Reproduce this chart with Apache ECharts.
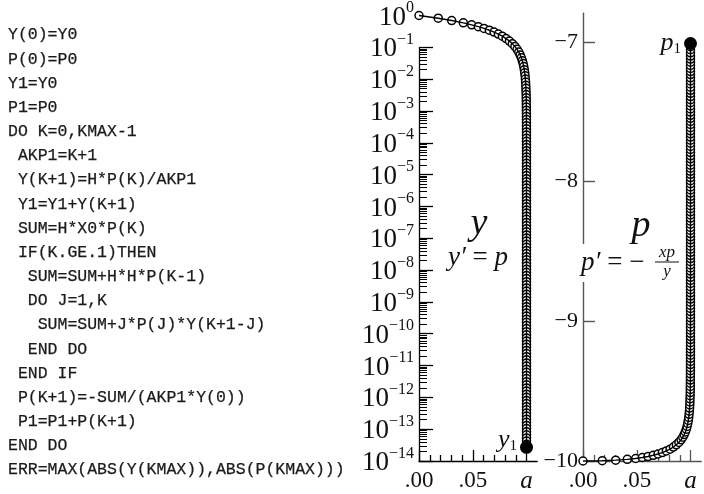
<!DOCTYPE html>
<html>
<head>
<meta charset="utf-8">
<script src="https://cdn.jsdelivr.net/npm/echarts@6/dist/echarts.min.js"></script>
<style>
  html, body { margin: 0; padding: 0; background: #fff; }
  #c { width: 704px; height: 494px; }
</style>
</head>
<body>
<div id="c"></div>
<script>
// Taylor-series integration of y' = p, p' = -x p / y from x = 0 towards the
// singular point x = a; one entry per accepted step.
const xs = [
  0, 0.0179, 0.0304, 0.0412, 0.049, 0.0552, 0.0605, 0.0654, 0.0698, 0.0738,
  0.0775, 0.081, 0.0841, 0.0868, 0.0892, 0.0912, 0.0928, 0.0941, 0.0952, 0.0961,
  0.0968, 0.09744, 0.09795, 0.09836, 0.09869, 0.09895, 0.09916, 0.09933, 0.09946, 0.09957,
  0.09966, 0.09973, 0.09978, 0.09982, 0.09986, 0.09989, 0.09991, 0.09993, 0.09994, 0.09995,
  0.09996, 0.09997, 0.09998, 0.09998, 0.09998, 0.09999,
  0.1, 0.1, 0.1, 0.1, 0.1, 0.1, 0.1, 0.1, 0.1, 0.1, 0.1, 0.1, 0.1, 0.1,
  0.1, 0.1, 0.1, 0.1, 0.1, 0.1, 0.1, 0.1, 0.1, 0.1, 0.1, 0.1, 0.1, 0.1,
  0.1, 0.1, 0.1, 0.1, 0.1, 0.1, 0.1, 0.1, 0.1, 0.1, 0.1, 0.1, 0.1, 0.1,
  0.1, 0.1, 0.1, 0.1, 0.1, 0.1, 0.1, 0.1, 0.1, 0.1, 0.1, 0.1, 0.1, 0.1,
  0.1, 0.1, 0.1, 0.1, 0.1, 0.1, 0.1, 0.1, 0.1, 0.1, 0.1, 0.1, 0.1, 0.1,
  0.1, 0.1, 0.1, 0.1, 0.1, 0.1, 0.1, 0.1, 0.1, 0.1, 0.1, 0.1, 0.1, 0.1,
  0.1, 0.1, 0.1, 0.1, 0.1, 0.1, 0.1, 0.1, 0.1, 0.1, 0.1, 0.1, 0.1, 0.1
];

const ys = [
  1, 0.8209, 0.6956, 0.5873, 0.5091, 0.4469, 0.3937, 0.3446, 0.3005, 0.2604,
  0.2234, 0.1884, 0.1574, 0.1305, 0.1066, 0.08666, 0.07077, 0.05789, 0.0470, 0.03811,
  3.121e-2, 2.491e-2, 1.989e-2, 1.587e-2, 1.267e-2, 1.011e-2, 8.071e-3, 6.442e-3, 5.142e-3, 4.104e-3,
  3.276e-3, 2.614e-3, 2.086e-3, 1.665e-3, 1.329e-3, 1.061e-3, 8.466e-4, 6.756e-4, 5.392e-4, 4.304e-4,
  3.435e-4, 2.741e-4, 2.188e-4, 1.746e-4, 1.393e-4, 1.112e-4, 8.874e-5, 7.082e-5, 5.652e-5, 4.511e-5,
  3.599e-5,
  2.872e-5, 2.292e-5, 1.829e-5, 1.460e-5, 1.165e-5, 9.297e-6, 7.419e-6, 5.920e-6, 4.725e-6, 3.770e-6,
  3.008e-6, 2.401e-6, 1.916e-6, 1.529e-6, 1.220e-6, 9.733e-7, 7.767e-7, 6.198e-7, 4.945e-7, 3.946e-7,
  3.149e-7, 2.513e-7, 2.005e-7, 1.600e-7, 1.276e-7, 1.018e-7, 8.126e-8, 6.484e-8, 5.173e-8, 4.128e-8,
  3.294e-8,
  2.628e-8, 2.097e-8, 1.673e-8, 1.335e-8, 1.065e-8, 8.496e-9, 6.779e-9, 5.408e-9, 4.315e-9, 3.442e-9,
  2.746e-9, 2.191e-9, 1.748e-9, 1.394e-9, 1.113e-9, 8.876e-10, 7.081e-10, 5.649e-10, 4.507e-10, 3.595e-10,
  2.868e-10, 2.288e-10, 1.825e-10, 1.456e-10, 1.162e-10, 9.266e-11, 7.391e-11, 5.896e-11, 4.704e-11, 3.752e-11,
  2.993e-11,
  2.387e-11, 1.904e-11, 1.519e-11, 1.212e-11, 9.664e-12, 7.709e-12, 6.149e-12, 4.905e-12, 3.912e-12, 3.120e-12,
  2.489e-12, 1.985e-12, 1.583e-12, 1.263e-12, 1.007e-12, 8.034e-13, 6.408e-13, 5.110e-13, 4.076e-13, 3.251e-13,
  2.592e-13, 2.068e-13, 1.649e-13, 1.315e-13, 1.049e-13, 8.364e-14, 6.671e-14, 5.319e-14, 4.242e-14, 3.383e-14,
  2.698e-14
];

const ps = [
  -10, -9.998, -9.994, -9.988, -9.982, -9.975, -9.968, -9.959, -9.950, -9.940,
  -9.928, -9.915, -9.900, -9.884, -9.867, -9.848, -9.830, -9.811, -9.792, -9.772,
  -9.753, -9.731, -9.710, -9.688, -9.666, -9.643, -9.621, -9.599, -9.577, -9.555,
  -9.533, -9.510, -9.488, -9.466, -9.443, -9.421, -9.399, -9.376, -9.354, -9.332,
  -9.310, -9.287, -9.265, -9.243, -9.220, -9.198, -9.176, -9.153, -9.131, -9.109,
  -9.086, -9.064, -9.042, -9.019, -8.997, -8.975, -8.953, -8.930, -8.908, -8.886,
  -8.863, -8.841, -8.819, -8.796, -8.774, -8.752, -8.729, -8.707, -8.685, -8.662,
  -8.640, -8.618, -8.596, -8.573, -8.551, -8.529, -8.506, -8.484, -8.462, -8.439,
  -8.417, -8.395, -8.372, -8.350, -8.328, -8.305, -8.283, -8.261, -8.239, -8.216,
  -8.194, -8.172, -8.149, -8.127, -8.105, -8.082, -8.060, -8.038, -8.015, -7.993,
  -7.971, -7.948, -7.926, -7.904, -7.882, -7.859, -7.837, -7.815, -7.792, -7.770,
  -7.748, -7.725, -7.703, -7.681, -7.658, -7.636, -7.614, -7.591, -7.569, -7.547,
  -7.525, -7.502, -7.480, -7.458, -7.435, -7.413, -7.391, -7.368, -7.346, -7.324,
  -7.301, -7.279, -7.257, -7.234, -7.212, -7.190, -7.168, -7.145, -7.123, -7.101,
  -7.078, -7.056, -7.034, -7.011
];

// Axis ticks and labels
const yDecades = [1, 1e-1, 1e-2, 1e-3, 1e-4, 1e-5, 1e-6, 1e-7, 1e-8, 1e-9, 1e-10, 1e-11, 1e-12, 1e-13, 1e-14];
const yTickDecades = yDecades.slice(1);
const xMajorTicks = [0, 0.05, 0.1];
const xTickText = ['.00', '.05', 'a'];
const xMinorTicks = [0.01, 0.02, 0.03, 0.04, 0.06, 0.07, 0.08, 0.09];
const pTicks = [-10, -9, -8, -7];

// FORTRAN listing of the recursion
const codeLines = [
  'Y(0)=Y0',
  'P(0)=P0',
  'Y1=Y0',
  'P1=P0',
  'DO K=0,KMAX-1',
  ' AKP1=K+1',
  ' Y(K+1)=H*P(K)/AKP1',
  ' Y1=Y1+Y(K+1)',
  ' SUM=H*X0*P(K)',
  ' IF(K.GE.1)THEN',
  '  SUM=SUM+H*H*P(K-1)',
  '  DO J=1,K',
  '   SUM=SUM+J*P(J)*Y(K+1-J)',
  '  END DO',
  ' END IF',
  ' P(K+1)=-SUM/(AKP1*Y(0))',
  ' P1=P1+P(K+1)',
  'END DO',
  'ERR=MAX(ABS(Y(KMAX)),ABS(P(KMAX)))'
];

// minor log ticks 2..9 within each decade below 10^-1
const yMinorTicks = [];
for (let e = -14; e <= -2; e++) {
  for (let m = 2; m <= 9; m++) yMinorTicks.push(m * Math.pow(10, e));
}

const SERIF = '"Liberation Serif", "DejaVu Serif", serif';
const INK = '#111';

const last = xs.length - 1;
const yData = xs.map((x, i) => [x, ys[i]]);
const pData = xs.map((x, i) => [x, ps[i]]);

const subRich = {
  i: { fontFamily: SERIF, fontStyle: 'italic', fontSize: 26, color: INK, verticalAlign: 'bottom' },
  s: { fontFamily: SERIF, fontSize: 15, color: INK, verticalAlign: 'bottom' }
};

function xLabel(v) {
  for (let i = 0; i < xMajorTicks.length; i++) {
    if (Math.abs(v - xMajorTicks[i]) < 1e-9) return i === 2 ? '{a|' + xTickText[i] + '}' : xTickText[i];
  }
  return '';
}
const xLabelRich = { a: { fontFamily: SERIF, fontStyle: 'italic', fontSize: 25, color: INK } };

function decadeLabel(v) {
  const e = Math.round(Math.log10(v));
  const sup = e < 0 ? '\u2212' + (-e) : String(e);
  return '{b|10}{s|' + sup + '}';
}

function xAxes(grid, color) {
  return [
    {
      gridIndex: grid, type: 'value', position: 'bottom', min: 0, max: 0.11, interval: 0.01,
      axisLine: { show: true, lineStyle: { color: color, width: 1.3 } },
      axisTick: { show: true, inside: true, length: 11, customValues: xMajorTicks, lineStyle: { color: color, width: 1.3 } },
      axisLabel: {
        show: true, customValues: xMajorTicks, formatter: xLabel, rich: xLabelRich,
        fontFamily: SERIF, fontSize: 23, color: INK, margin: 8
      },
      splitLine: { show: false }
    },
    {
      gridIndex: grid, type: 'value', position: 'bottom', min: 0, max: 0.11, interval: 0.01,
      axisLine: { show: false },
      axisTick: { show: true, inside: true, length: 6, customValues: xMinorTicks, lineStyle: { color: color, width: 1.3 } },
      axisLabel: { show: false },
      splitLine: { show: false }
    }
  ];
}

// open circles underneath, joining line drawn over them, filled end point on top
function curveSeries(xIdx, yIdx, data, endLabel, endOffset) {
  return [
    {
      type: 'scatter', xAxisIndex: xIdx, yAxisIndex: yIdx, data: data.slice(0, last), clip: false,
      symbol: 'circle', symbolSize: 8,
      itemStyle: { color: '#fff', borderColor: '#000', borderWidth: 1.5, opacity: 1 },
      emphasis: { disabled: true }, z: 2
    },
    {
      type: 'line', xAxisIndex: xIdx, yAxisIndex: yIdx, data: data, clip: false,
      showSymbol: false, symbol: 'none',
      lineStyle: { color: '#000', width: 1.4 },
      emphasis: { disabled: true }, z: 3
    },
    {
      type: 'scatter', xAxisIndex: xIdx, yAxisIndex: yIdx, data: [data[last]], clip: false,
      symbol: 'circle', symbolSize: 13,
      itemStyle: { color: '#000', opacity: 1 },
      label: { show: true, position: 'left', distance: 3, offset: endOffset, formatter: endLabel, rich: subRich },
      emphasis: { disabled: true }, z: 4
    }
  ];
}

const ySeries = curveSeries(0, 0, yData, '{i|y}{s|1}', [0, -7]);
ySeries[1].markLine = {
  silent: true, symbol: ['none', 'none'], label: { show: false },
  lineStyle: { color: '#000', width: 1.3, type: 'solid' },
  data: [[{ coord: [0, 1e-14] }, { coord: [0, 1e-1] }]]
};
const pSeries = curveSeries(2, 2, pData, '{i|p}{s|1}', [0, 0]);

const option = {
  animation: false,
  backgroundColor: '#fff',
  grid: [
    { left: 419, top: 14.5, width: 118.25, height: 455.5 },
    { left: 583, top: 13.3, width: 118.25, height: 456.7 }
  ],
  xAxis: xAxes(0, '#000').concat(xAxes(1, '#555')),
  yAxis: [
    {
      gridIndex: 0, type: 'log', logBase: 10, min: 1e-14, max: 1, position: 'left',
      axisLine: { show: false },
      axisTick: { show: true, inside: true, length: 14, customValues: yTickDecades, lineStyle: { color: '#000', width: 1.3 } },
      axisLabel: {
        show: true, customValues: yDecades, formatter: decadeLabel, margin: 5,
        rich: {
          b: { fontFamily: SERIF, fontSize: 27, color: INK, verticalAlign: 'bottom', lineHeight: 31 },
          s: { fontFamily: SERIF, fontSize: 16, color: INK, verticalAlign: 'top', lineHeight: 18 }
        }
      },
      splitLine: { show: false }, minorTick: { show: false }
    },
    {
      gridIndex: 0, type: 'log', logBase: 10, min: 1e-14, max: 1, position: 'left',
      axisLine: { show: false },
      axisTick: { show: true, inside: true, length: 8, customValues: yMinorTicks, lineStyle: { color: '#000', width: 1 } },
      axisLabel: { show: false },
      splitLine: { show: false }
    },
    {
      gridIndex: 1, type: 'value', min: -10, max: -6.795, interval: 1, position: 'left',
      axisLine: { show: true, lineStyle: { color: '#555', width: 1.4 } },
      axisTick: { show: true, inside: true, length: 12, customValues: pTicks, lineStyle: { color: '#555', width: 1.4 } },
      axisLabel: {
        show: true, customValues: pTicks, margin: 5,
        formatter: v => '\u2212' + Math.abs(v),
        fontFamily: SERIF, fontSize: 22, color: INK
      },
      splitLine: { show: false }
    }
  ],
  series: ySeries.concat(pSeries),
  graphic: []
};

// program listing
codeLines.forEach((line, i) => {
  option.graphic.push({
    type: 'text', x: 8, y: 35 + i * 24.17, silent: true,
    style: {
      text: line, font: '16.5px "Liberation Mono", "DejaVu Sans Mono", monospace',
      fill: '#1a1a1a', stroke: '#1a1a1a', lineWidth: 0.25, align: 'left', verticalAlign: 'middle'
    }
  });
});

// equation captions inside the plots
const EQ_RICH = {
  i: { fontFamily: SERIF, fontStyle: 'italic', fontSize: 27, fill: INK },
  r: { fontFamily: SERIF, fontSize: 27, fill: INK }
};
option.graphic.push(
  { type: 'text', x: 479, y: 224, silent: true, z: 10,
    style: { text: 'y', font: 'italic 38px ' + SERIF, fill: INK, align: 'center', verticalAlign: 'middle' } },
  { type: 'text', x: 478, y: 258, silent: true, z: 10,
    style: { text: '{i|y\u2032}{r| = }{i|p}', rich: EQ_RICH, align: 'center', verticalAlign: 'middle' } },
  { type: 'text', x: 641, y: 226, silent: true, z: 10,
    style: { text: 'p', font: 'italic 38px ' + SERIF, fill: INK, align: 'center', verticalAlign: 'middle' } },
  { type: 'rect', silent: true, z: 9, shape: { x: 578, y: 244, width: 106, height: 38 }, style: { fill: '#fff' } },
  { type: 'text', x: 581, y: 263, silent: true, z: 10,
    style: { text: '{i|p\u2032}{r| = \u2212}', rich: EQ_RICH, align: 'left', verticalAlign: 'middle' } },
  { type: 'text', x: 667, y: 253, silent: true, z: 10,
    style: { text: 'xp', font: 'italic 17px ' + SERIF, fill: INK, align: 'center', verticalAlign: 'middle' } },
  { type: 'line', silent: true, z: 10, shape: { x1: 655, y1: 262, x2: 679, y2: 262 }, style: { stroke: INK, lineWidth: 1 } },
  { type: 'text', x: 667, y: 272, silent: true, z: 10,
    style: { text: 'y', font: 'italic 17px ' + SERIF, fill: INK, align: 'center', verticalAlign: 'middle' } }
);

const chart = echarts.init(document.getElementById('c'), null, { renderer: 'canvas' });
chart.setOption(option);
</script>
</body>
</html>
